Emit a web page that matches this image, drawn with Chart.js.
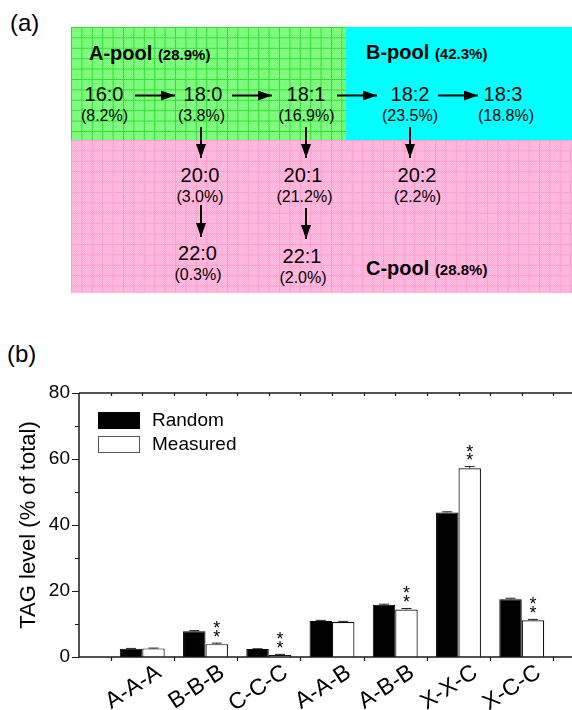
<!DOCTYPE html>
<html>
<head>
<meta charset="utf-8">
<script src="https://cdn.jsdelivr.net/npm/chart.js@4.4.0/dist/chart.umd.min.js"></script>
<style>
  html, body { margin: 0; padding: 0; background: #fff; }
  body { position: relative; width: 572px; height: 710px; overflow: hidden; }
  #diagram { position: absolute; left: 0; top: 0; }
  #chartWrap { position: absolute; left: 0; top: 340px; width: 620px; height: 370px; }
</style>
</head>
<body>

<!-- panel (a): fatty acid pools -->
<svg id="diagram" width="572" height="710" xmlns="http://www.w3.org/2000/svg" font-family="Liberation Sans, Arial, sans-serif">
  <defs>
    <pattern id="gridGreen" x="71" y="27" width="10.4" height="10.4" patternUnits="userSpaceOnUse">
      <rect width="10.4" height="10.4" fill="#74fc74"/>
      <path d="M0 0.5H10.4M0.5 0V10.4" stroke="#1fdc1f" stroke-width="1"/>
    </pattern>
    <pattern id="gridPink" x="71" y="140" width="10.4" height="10.4" patternUnits="userSpaceOnUse">
      <rect width="10.4" height="10.4" fill="#ffb2d9"/>
      <path d="M0 0.5H10.4M0.5 0V10.4" stroke="#ff96c9" stroke-width="1"/>
    </pattern>
    <pattern id="dither" width="2" height="2" patternUnits="userSpaceOnUse">
      <rect width="1" height="1" fill="#fff" opacity="0.15"/>
      <rect x="1" y="1" width="1" height="1" fill="#fff" opacity="0.15"/>
    </pattern>
    <marker id="head" markerWidth="14" markerHeight="10" refX="14" refY="5" orient="auto" markerUnits="userSpaceOnUse">
      <path d="M0,0 L14,5 L0,10 z" fill="#000"/>
    </marker>
  </defs>

  <text x="10" y="31" font-size="24">(a)</text>

  <rect x="71" y="27" width="275" height="113" fill="url(#gridGreen)"/>
  <rect x="71" y="27" width="275" height="113" fill="url(#dither)"/>
  <rect x="346" y="27" width="226" height="113" fill="#00ffff"/>
  <rect x="71" y="140" width="501" height="153" fill="url(#gridPink)"/>
  <rect x="71" y="140" width="501" height="153" fill="url(#dither)"/>

  <text x="89" y="60" font-weight="bold" font-size="20">A-pool <tspan font-size="15">(28.9%)</tspan></text>
  <text x="366" y="58.5" font-weight="bold" font-size="20">B-pool <tspan font-size="15">(42.3%)</tspan></text>
  <text x="366" y="275" font-weight="bold" font-size="20">C-pool <tspan font-size="15">(28.8%)</tspan></text>

  <g text-anchor="middle" font-size="20">
    <text x="104" y="100.5">16:0</text>
    <text x="203" y="100.5">18:0</text>
    <text x="306" y="100.5">18:1</text>
    <text x="410" y="100.5">18:2</text>
    <text x="503" y="100.5">18:3</text>
    <text x="200" y="182">20:0</text>
    <text x="303" y="182">20:1</text>
    <text x="417" y="182">20:2</text>
    <text x="197.5" y="260">22:0</text>
    <text x="302" y="262.5">22:1</text>
  </g>
  <g text-anchor="middle" font-size="16">
    <text x="104.5" y="121">(8.2%)</text>
    <text x="201.5" y="121">(3.8%)</text>
    <text x="306.5" y="121">(16.9%)</text>
    <text x="410" y="121">(23.5%)</text>
    <text x="506" y="121">(18.8%)</text>
    <text x="200" y="201.5">(3.0%)</text>
    <text x="304.5" y="201.5">(21.2%)</text>
    <text x="417.5" y="201.5">(2.2%)</text>
    <text x="198" y="279.5">(0.3%)</text>
    <text x="303" y="282.5">(2.0%)</text>
  </g>

  <g stroke="#000" stroke-width="2" marker-end="url(#head)">
    <line x1="135" y1="95.5" x2="175" y2="95.5"/>
    <line x1="232" y1="95.5" x2="272" y2="95.5"/>
    <line x1="337" y1="95.5" x2="377" y2="95.5"/>
    <line x1="438" y1="95.5" x2="478" y2="95.5"/>
    <line x1="201" y1="127" x2="201" y2="158"/>
    <line x1="306" y1="127" x2="306" y2="158"/>
    <line x1="410" y1="127" x2="410" y2="158"/>
    <line x1="201" y1="205" x2="201" y2="237"/>
    <line x1="306" y1="208" x2="306" y2="239"/>
  </g>

  <text x="7" y="362" font-size="24">(b)</text>
</svg>

<!-- panel (b): TAG levels -->
<div id="chartWrap"><canvas id="tagChart"></canvas></div>

<script>
// Data
const categories = ['A-A-A', 'B-B-B', 'C-C-C', 'A-A-B', 'A-B-B', 'X-X-C', 'X-C-C'];
const randomVals = [2.5, 7.8, 2.4, 10.9, 15.8, 43.8, 17.5];
const measuredVals = [2.6, 3.9, 0.6, 10.6, 14.4, 57.2, 11.1];
const randomErr = [0.1, 0.2, 0.1, 0.2, 0.2, 0.2, 0.3];
const measuredErr = [0.1, 0.3, 0.2, 0.2, 0.3, 0.5, 0.3];
const significant = [false, true, true, false, true, true, true];
const yTicks = [0, 20, 40, 60, 80];

const FONT = 'Liberation Sans, Arial, sans-serif';
Chart.defaults.font.family = FONT;
Chart.defaults.color = '#000';

// Origin style frame: axes, ticks, top line
const framePlugin = {
    id: 'frame',
    afterDatasetsDraw(chart) {
        const { ctx, chartArea: a, scales: { x, y } } = chart;
        ctx.save();
        ctx.strokeStyle = '#1a1a1a';
        ctx.lineWidth = 1.5;
        ctx.beginPath();
        ctx.moveTo(a.left, a.top);
        ctx.lineTo(a.left, a.bottom);
        ctx.lineTo(chart.width, a.bottom);
        ctx.moveTo(a.left, a.top);
        ctx.lineTo(chart.width, a.top);
        ctx.stroke();

        ctx.lineWidth = 1.2;
        ctx.beginPath();
        // left ticks, major and minor, pointing out
        for (let v = 0; v <= 80; v += 10) {
            const py = Math.round(y.getPixelForValue(v)) + 0.5;
            const len = v % 20 === 0 ? 7 : 4;
            ctx.moveTo(a.left - len, py);
            ctx.lineTo(a.left, py);
        }
        // bottom ticks between groups, top ticks every half step
        for (let p = 0.5; p < 8; p += 0.5) {
            const px = Math.round(x.getPixelForValue(p)) + 0.5;
            if (p % 1 !== 0) {
                ctx.moveTo(px, a.bottom);
                ctx.lineTo(px, a.bottom + 4);
            }
            ctx.moveTo(px, a.top);
            ctx.lineTo(px, a.top + 3);
        }
        ctx.stroke();
        ctx.restore();
    }
};

// Error bars and significance stars
const errorPlugin = {
    id: 'errors',
    afterDatasetsDraw(chart) {
        const { ctx, scales: { y } } = chart;
        const errs = [randomErr, measuredErr];
        const vals = [randomVals, measuredVals];
        ctx.save();
        ctx.strokeStyle = '#222';
        ctx.lineWidth = 1;
        chart.data.datasets.forEach((ds, d) => {
            chart.getDatasetMeta(d).data.forEach((el, i) => {
                const top = y.getPixelForValue(vals[d][i] + errs[d][i]);
                const base = y.getPixelForValue(vals[d][i]);
                ctx.beginPath();
                ctx.moveTo(el.x, base);
                ctx.lineTo(el.x, top);
                ctx.moveTo(el.x - 5, top);
                ctx.lineTo(el.x + 5, top);
                ctx.stroke();
            });
        });

        ctx.fillStyle = '#000';
        ctx.font = '18px ' + FONT;
        ctx.textAlign = 'center';
        ctx.textBaseline = 'alphabetic';
        const m = ctx.measureText('*');
        const shift = (m.actualBoundingBoxAscent - m.actualBoundingBoxDescent) / 2;
        chart.getDatasetMeta(1).data.forEach((el, i) => {
            if (!significant[i]) return;
            const top = y.getPixelForValue(measuredVals[i] + measuredErr[i]);
            ctx.fillText('*', el.x, top - 10 + shift);
            ctx.fillText('*', el.x, top - 18.5 + shift);
        });
        ctx.restore();
    }
};

// Legend inside the plot, top left
const legendPlugin = {
    id: 'boxLegend',
    afterDraw(chart) {
        const { ctx, chartArea: a } = chart;
        ctx.save();
        ctx.font = '19px ' + FONT;
        ctx.textBaseline = 'middle';
        chart.data.datasets.forEach((ds, i) => {
            const bx = a.left + 19;
            const by = a.top + 19 + i * 24;
            ctx.fillStyle = ds.backgroundColor;
            ctx.fillRect(bx, by, 42, 17);
            ctx.strokeStyle = i === 0 ? '#000' : '#555';
            ctx.lineWidth = 1;
            ctx.strokeRect(bx + 0.5, by + 0.5, 41, 16);
            ctx.fillStyle = '#000';
            ctx.fillText(ds.label, bx + 54, by + 9);
        });
        ctx.restore();
    }
};

const ctx = document.getElementById('tagChart').getContext('2d');
const chart = new Chart(ctx, {
    type: 'bar',
    data: {
        datasets: [
            {
                label: 'Random',
                data: randomVals.map((v, i) => ({ x: i + 1, y: v })),
                backgroundColor: '#000',
                borderColor: '#000',
                borderWidth: 1
            },
            {
                label: 'Measured',
                data: measuredVals.map((v, i) => ({ x: i + 1, y: v })),
                backgroundColor: '#fff',
                borderColor: '#111',
                borderWidth: 1.2
            }
        ]
    },
    options: {
        responsive: true,
        maintainAspectRatio: false,
        animation: false,
        categoryPercentage: 0.71,
        barPercentage: 1.0,
        layout: { padding: { top: 53, right: 35, left: 0, bottom: 0 } },
        plugins: {
            legend: { display: false },
            tooltip: { enabled: false }
        },
        scales: {
            x: {
                type: 'linear',
                min: 0,
                max: 8,
                offset: false,
                grid: { display: false, drawTicks: false },
                border: { display: false },
                afterFit: s => { s.height = 53; },
                ticks: {
                    stepSize: 1,
                    autoSkip: false,
                    minRotation: 33,
                    maxRotation: 33,
                    padding: 2,
                    labelOffset: 17,
                    font: { size: 23 },
                    callback: v => categories[v - 1] || ''
                }
            },
            y: {
                min: 0,
                max: 80,
                grid: { display: false, drawTicks: false },
                border: { display: false },
                afterFit: s => { s.width = 79; },
                afterBuildTicks: s => { s.ticks = yTicks.map(v => ({ value: v })); },
                ticks: { padding: 9, font: { size: 19 } },
                title: {
                    display: true,
                    text: 'TAG level (% of total)',
                    font: { size: 22 },
                    padding: { top: 16, bottom: 0 }
                }
            }
        }
    },
    plugins: [framePlugin, errorPlugin, legendPlugin]
});
</script>
</body>
</html>
